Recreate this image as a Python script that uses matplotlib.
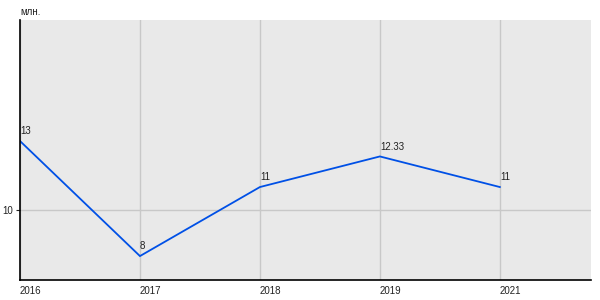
import matplotlib
matplotlib.use("Agg")
import matplotlib.pyplot as plt

years = ["2016", "2017", "2018", "2019", "2021"]
values = [13, 8, 11, 12.33, 11]
labels = ["13", "8", "11", "12.33", "11"]

plt.rcParams["font.family"] = ["Liberation Sans", "DejaVu Sans"]

fig = plt.figure(figsize=(6, 3), dpi=100)
ax = fig.add_axes([20 / 600, 20 / 300, 571 / 600, 260 / 300])
ax.set_facecolor("#e9e9e9")

x = list(range(len(years)))
ax.plot(x, values, color="#0050e6", lw=1.3, solid_joinstyle="miter")
for xi, v, t in zip(x, values, labels):
    ax.annotate(t, (xi, v), xytext=(0, 3.5), textcoords="offset points",
                fontsize=7, color="#222222", ha="left", va="bottom")

ax.set_xlim(0, 4.76)
ax.set_ylim(6.96, 18.26)
ax.set_xticks(x)
ax.set_xticklabels(years, ha="left")
ax.set_yticks([10])
ax.tick_params(axis="x", length=0, labelsize=7, pad=4, colors="#222222")
ax.tick_params(axis="y", length=3, labelsize=7, pad=2, colors="#222222")
ax.grid(True, color="#c8c8c8", lw=1)
ax.set_axisbelow(True)
for s in ["top", "right"]:
    ax.spines[s].set_visible(False)
for s in ["left", "bottom"]:
    ax.spines[s].set_color("black")
    ax.spines[s].set_linewidth(1.2)

fig.text(20 / 600, 1 - 12 / 300, "млн.", fontsize=7, color="#222222", va="center", ha="left")

fig.savefig("out.png", dpi=100)
